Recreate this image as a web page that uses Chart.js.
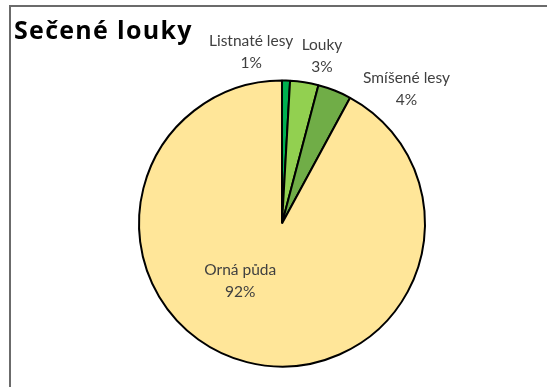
<!DOCTYPE html>
<html>
<head>
<meta charset="utf-8">
<script src="https://cdn.jsdelivr.net/npm/chart.js@4"></script>
<style>
  html, body { margin: 0; padding: 0; background: #fff; }
  #wrap { width: 547px; height: 387px; }
</style>
</head>
<body>
<div id="wrap"><canvas id="myChart" width="547" height="387"></canvas></div>
<script>
// land use shares, clockwise from the top
var categories = ['Listnaté lesy', 'Louky', 'Smíšené lesy', 'Orná půda'];
var shares = [0.9, 3.2, 3.8, 92.1];
var colors = ['#00B050', '#92D050', '#70AD47', '#FFE699'];
var title = 'Sečené louky';

// where each label sits: angle from top (deg, clockwise) and distance in radii
var labelPlaces = [
    {angle: -10.2, dist: 1.22},
    {angle: 13.4, dist: 1.207},
    {angle: 42.7, dist: 1.284},
    {angle: 216.1, dist: 0.496}
];

var frame = {
    id: 'frame',
    beforeDraw: function(chart) {
        var ctx = chart.ctx;
        ctx.save();
        ctx.fillStyle = '#fff';
        ctx.fillRect(0, 0, chart.width, chart.height);
        ctx.strokeStyle = '#6b6b6b';
        ctx.lineWidth = 2;
        ctx.beginPath();
        ctx.moveTo(10, chart.height);
        ctx.lineTo(10, 6);
        ctx.lineTo(chart.width, 6);
        ctx.stroke();
        ctx.fillStyle = '#000';
        ctx.font = 'bold 25px "Open Sans"';
        ctx.letterSpacing = '1.3px';
        ctx.textBaseline = 'alphabetic';
        ctx.fillText(title, 14, 39);
        ctx.restore();
    }
};

var sliceLabels = {
    id: 'sliceLabels',
    afterDatasetsDraw: function(chart) {
        var ctx = chart.ctx;
        var meta = chart.getDatasetMeta(0);
        var total = shares.reduce(function(a, b) { return a + b; }, 0);
        ctx.save();
        ctx.fillStyle = '#404040';
        ctx.font = '15.5px Lato';
        ctx.textAlign = 'center';
        ctx.textBaseline = 'middle';
        meta.data.forEach(function(arc, i) {
            var p = labelPlaces[i];
            var a = p.angle * Math.PI / 180;
            var x = arc.x + Math.sin(a) * arc.outerRadius * p.dist;
            var y = arc.y - Math.cos(a) * arc.outerRadius * p.dist;
            var pct = Math.round(shares[i] / total * 100) + '%';
            ctx.fillText(categories[i], x, y - 11);
            ctx.fillText(pct, x, y + 11);
        });
        ctx.restore();
    }
};

function main() {
    var ctx = document.getElementById('myChart').getContext('2d');
    new Chart(ctx, {
        type: 'pie',
        data: {
            labels: categories,
            datasets: [{
                data: shares,
                backgroundColor: colors,
                borderColor: '#000',
                borderWidth: 2
            }]
        },
        options: {
            responsive: false,
            animation: false,
            layout: {padding: {left: 138, right: 121, top: 79, bottom: 19}},
            plugins: {
                legend: {display: false},
                title: {display: false},
                tooltip: {enabled: false}
            }
        },
        plugins: [frame, sliceLabels]
    });
}

document.addEventListener('DOMContentLoaded', main);
</script>
</body>
</html>
